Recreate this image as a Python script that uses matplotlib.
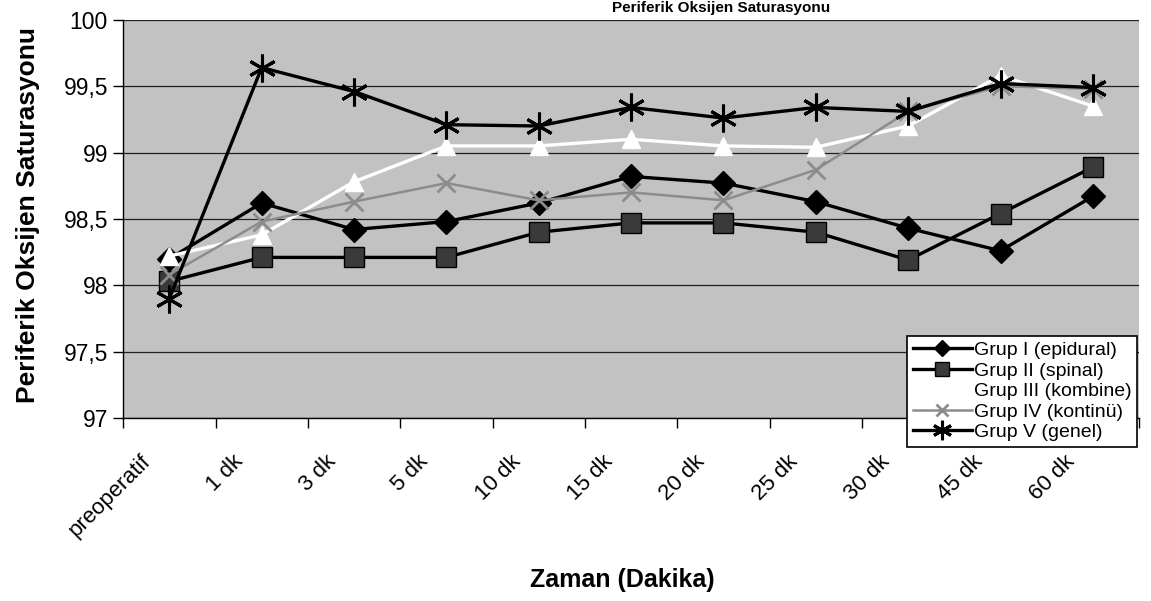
import matplotlib.pyplot as plt
from matplotlib.ticker import FixedLocator
from matplotlib.transforms import ScaledTranslation

plt.rcParams['font.family'] = ['Liberation Sans', 'DejaVu Sans']

# veriler
kategoriler = ['preoperatif', '1 dk', '3 dk', '5 dk', '10 dk', '15 dk',
               '20 dk', '25 dk', '30 dk', '45 dk', '60 dk']
grup1 = [98.20, 98.62, 98.42, 98.48, 98.62, 98.82, 98.77, 98.63, 98.43, 98.26, 98.67]
grup2 = [98.03, 98.21, 98.21, 98.21, 98.40, 98.47, 98.47, 98.40, 98.19, 98.54, 98.89]
grup3 = [98.22, 98.38, 98.78, 99.05, 99.05, 99.10, 99.05, 99.04, 99.20, 99.58, 99.35]
grup4 = [98.08, 98.48, 98.63, 98.77, 98.64, 98.70, 98.64, 98.87, 99.31, 99.50, 99.48]
grup5 = [97.90, 99.64, 99.46, 99.21, 99.20, 99.34, 99.26, 99.34, 99.31, 99.52, 99.49]

y_ticks = [97, 97.5, 98, 98.5, 99, 99.5, 100]
y_etiketler = ['97', '97,5', '98', '98,5', '99', '99,5', '100']

fig = plt.figure(figsize=(11.51, 6.01), dpi=100)
ax = fig.add_axes([0.107, 0.3045, 0.8826, 0.6625])
ax.set_facecolor('#c2c2c2')

x = list(range(len(kategoriler)))

ax.plot(x, grup1, color='black', lw=2.4, marker='D', ms=12,
        mfc='black', mec='black', label='Grup I (epidural)', zorder=3)
ax.plot(x, grup2, color='black', lw=2.4, marker='s', ms=15,
        mfc='#3a3a3a', mec='black', label='Grup II (spinal)', zorder=3)
ax.plot(x, grup3, color='white', lw=2.4, marker='^', ms=13,
        mfc='white', mec='white', label='Grup III (kombine)', zorder=3)
ax.plot(x, grup4, color='#8c8c8c', lw=1.8, marker='x', ms=13, mew=2,
        mfc='#8c8c8c', mec='#8c8c8c', label='Grup IV (kontinü)', zorder=3)
ax.plot(x, grup5, color='black', lw=2.4, marker=(6, 2, 0), ms=20, mew=2.2,
        mec='black', label='Grup V (genel)', zorder=4)

ax.set_xlim(-0.5, len(kategoriler) - 0.5)
ax.set_ylim(97, 100)

ax.set_xticks(x)
ax.set_xticklabels(kategoriler, rotation=45, ha='right', fontsize=16)
ax.tick_params(axis='x', which='major', length=0, pad=24)
kaydir = ScaledTranslation(-14 / 100, 0, fig.dpi_scale_trans)
for lbl in ax.get_xticklabels():
    lbl.set_transform(lbl.get_transform() + kaydir)
ax.xaxis.set_minor_locator(FixedLocator([i - 0.5 for i in range(len(kategoriler) + 1)]))
ax.tick_params(axis='x', which='minor', length=7, width=1, color='black')

ax.set_yticks(y_ticks)
ax.set_yticklabels(y_etiketler, fontsize=16.5)
ax.tick_params(axis='y', length=7, width=1, pad=4)

ax.grid(axis='y', color='#202020', lw=0.9)
ax.set_axisbelow(True)
for s in ['top', 'right']:
    ax.spines[s].set_visible(False)
ax.spines['left'].set_linewidth(1)
ax.spines['bottom'].set_linewidth(1)

leg = ax.legend(loc='lower right', bbox_to_anchor=(0.998, -0.073), fontsize=14,
                frameon=True, fancybox=False, edgecolor='black', framealpha=1,
                borderaxespad=0, labelspacing=0.15, handlelength=3.0,
                handletextpad=0.1, borderpad=0.3, markerscale=0.7)
leg.get_frame().set_linewidth(1.2)
leg.set_zorder(10)

fig.text(28 / 1151, 1 - 215 / 601, 'Periferik Oksijen Saturasyonu', rotation=90,
         ha='center', va='center', fontsize=19, fontweight='bold')
fig.text(622 / 1151, 1 - 580 / 601, 'Zaman (Dakika)', ha='center', va='center',
         fontsize=18, fontweight='bold')
# başlık (taramada üstü kesik)
fig.text(830 / 1151, 1 - 1 / 601, 'Periferik Oksijen Saturasyonu', ha='right',
         va='top', fontsize=11, fontweight='bold')

fig.savefig('out.png', dpi=100)
